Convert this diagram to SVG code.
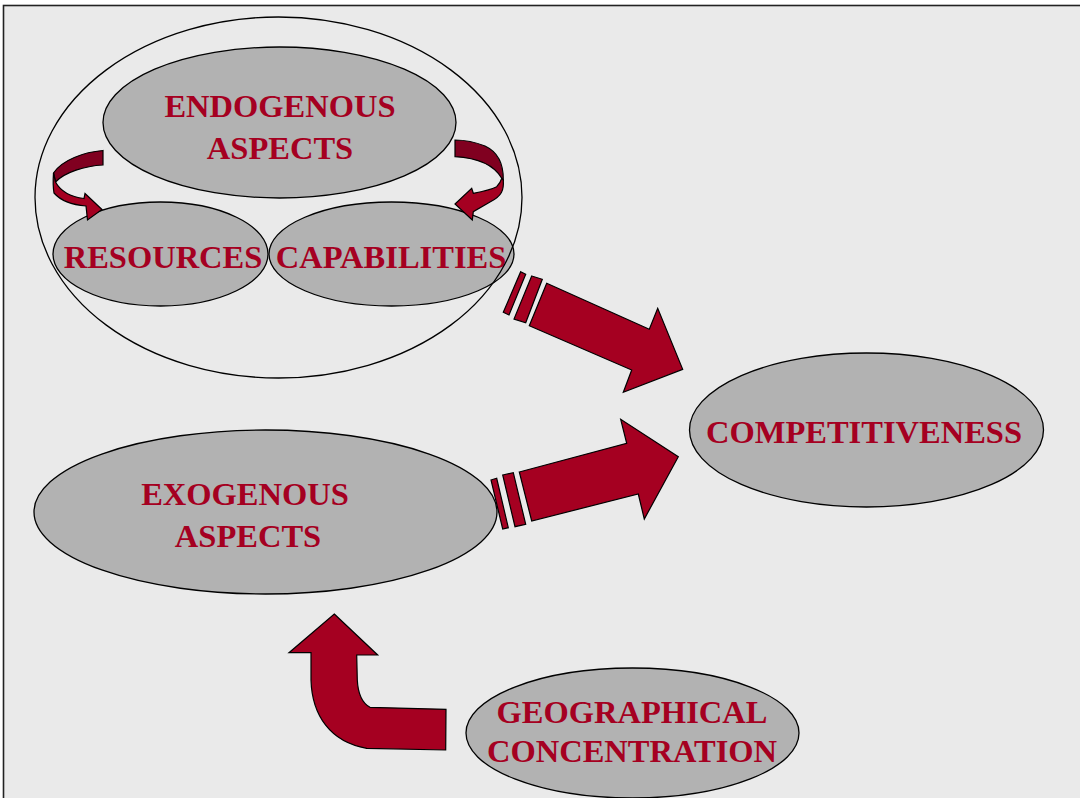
<svg xmlns="http://www.w3.org/2000/svg" width="1080" height="798" viewBox="0 0 1080 798">
<style>
.node{fill:#b2b2b2;stroke:#000;stroke-width:1.3}
.lbl{font-family:"Liberation Serif","Times New Roman",serif;font-weight:bold;font-size:32.5px;fill:#a50021;text-anchor:middle}
.arr{fill:#a50021;stroke:#000;stroke-width:1.2;stroke-linejoin:miter}
.dark{fill:#800020;stroke:#000;stroke-width:1.2}
</style>
<rect x="0" y="0" width="1080" height="798" fill="#ffffff"/>
<rect x="3.5" y="5.5" width="1100" height="820" fill="#eaeaea" stroke="#222" stroke-width="1.6"/>

<g id="endogenous">
<ellipse class="node" cx="279.5" cy="122.5" rx="176.5" ry="75.5"/>
<text class="lbl" x="280" y="117">ENDOGENOUS</text>
<text class="lbl" x="280" y="159">ASPECTS</text>
</g>
<g id="resources">
<ellipse class="node" cx="160.5" cy="254" rx="107.5" ry="52"/>
<text class="lbl" x="163" y="268">RESOURCES</text>
</g>
<g id="capabilities">
<ellipse class="node" cx="391.5" cy="254" rx="122.5" ry="52"/>
<text class="lbl" x="391" y="268">CAPABILITIES</text>
</g>
<g id="endogenous-group">
<ellipse cx="278.5" cy="197.5" rx="243.5" ry="180.5" fill="none" stroke="#000" stroke-width="1.3"/>
</g>
<g id="competitiveness">
<ellipse class="node" cx="866.5" cy="430" rx="177" ry="77"/>
<text class="lbl" x="864" y="443">COMPETITIVENESS</text>
</g>
<g id="exogenous">
<ellipse class="node" cx="265.5" cy="512" rx="231.5" ry="82"/>
<text class="lbl" x="245" y="505">EXOGENOUS</text>
<text class="lbl" x="248" y="547">ASPECTS</text>
</g>
<g id="geographical">
<ellipse class="node" cx="632.5" cy="733" rx="166.5" ry="65"/>
<text class="lbl" x="632" y="723">GEOGRAPHICAL</text>
<text class="lbl" x="632" y="762">CONCENTRATION</text>
</g>

<g id="connectors">
<!-- left curved arrow -->
<path class="dark" d="M103 150.5 L103 165 C85 166 65 172 55.5 182 L53.5 173 C62 160 84 152 103 150.5 Z"/>
<path class="arr" d="M53.5 173 C53 180 53 187 54 193 C61 201 73 205 86 206 L87.5 220 L102 209.5 L85 193.5 L84 198.5 C72 197 61 192 55.5 182 Z"/>
<!-- right curved arrow -->
<path class="dark" d="M455 140 L455 156.7 C478 158 494 165 501.7 178.3 L503.3 180 C503.5 165 498 152 485 146 C475 142 465 140 455 140 Z"/>
<path class="arr" d="M503.3 180 C504 190 502 196 490 202 L473.3 211.7 L472.3 220 L455 204 L471.7 188.3 L473.3 193.3 C480 192 490 190 496.7 186.7 C499 184 501 181 501.7 178.3 Z"/>
<!-- arrow to competitiveness from endogenous -->
<path class="arr" d="M520.7 271.7 L525.7 274.3 L509 315 L503.3 312.3 Z"/>
<path class="arr" d="M531.7 276 L542.3 279.3 L525.7 322.7 L514 319 Z"/>
<path class="arr" d="M546.7 283.3 L649.3 329.3 L657.7 308.3 L682.7 369.3 L623.3 392.3 L631.7 370 L529.3 325.7 Z"/>
<!-- arrow to competitiveness from exogenous -->
<path class="arr" d="M491 480 L496.7 478.3 L508.3 527.7 L502.7 529 Z"/>
<path class="arr" d="M502.7 475 L513.3 472.7 L525.7 524.3 L515 526.7 Z"/>
<path class="arr" d="M519.3 472 L626.7 443.3 L620.7 419.3 L678.3 456.7 L644.3 519 L638.3 494 L531.7 521 Z"/>
<!-- bent arrow from geographical to exogenous -->
<path class="arr" d="M334.3 614 L377.7 655 L356.7 655 L357.3 680 C358 694 362 703 370 707.3 L446 709.3 L445.7 750 L366.7 748.3 C330 742 312 715 311 680 L311 652.7 L289 652.7 Z"/>
</g>
</svg>
